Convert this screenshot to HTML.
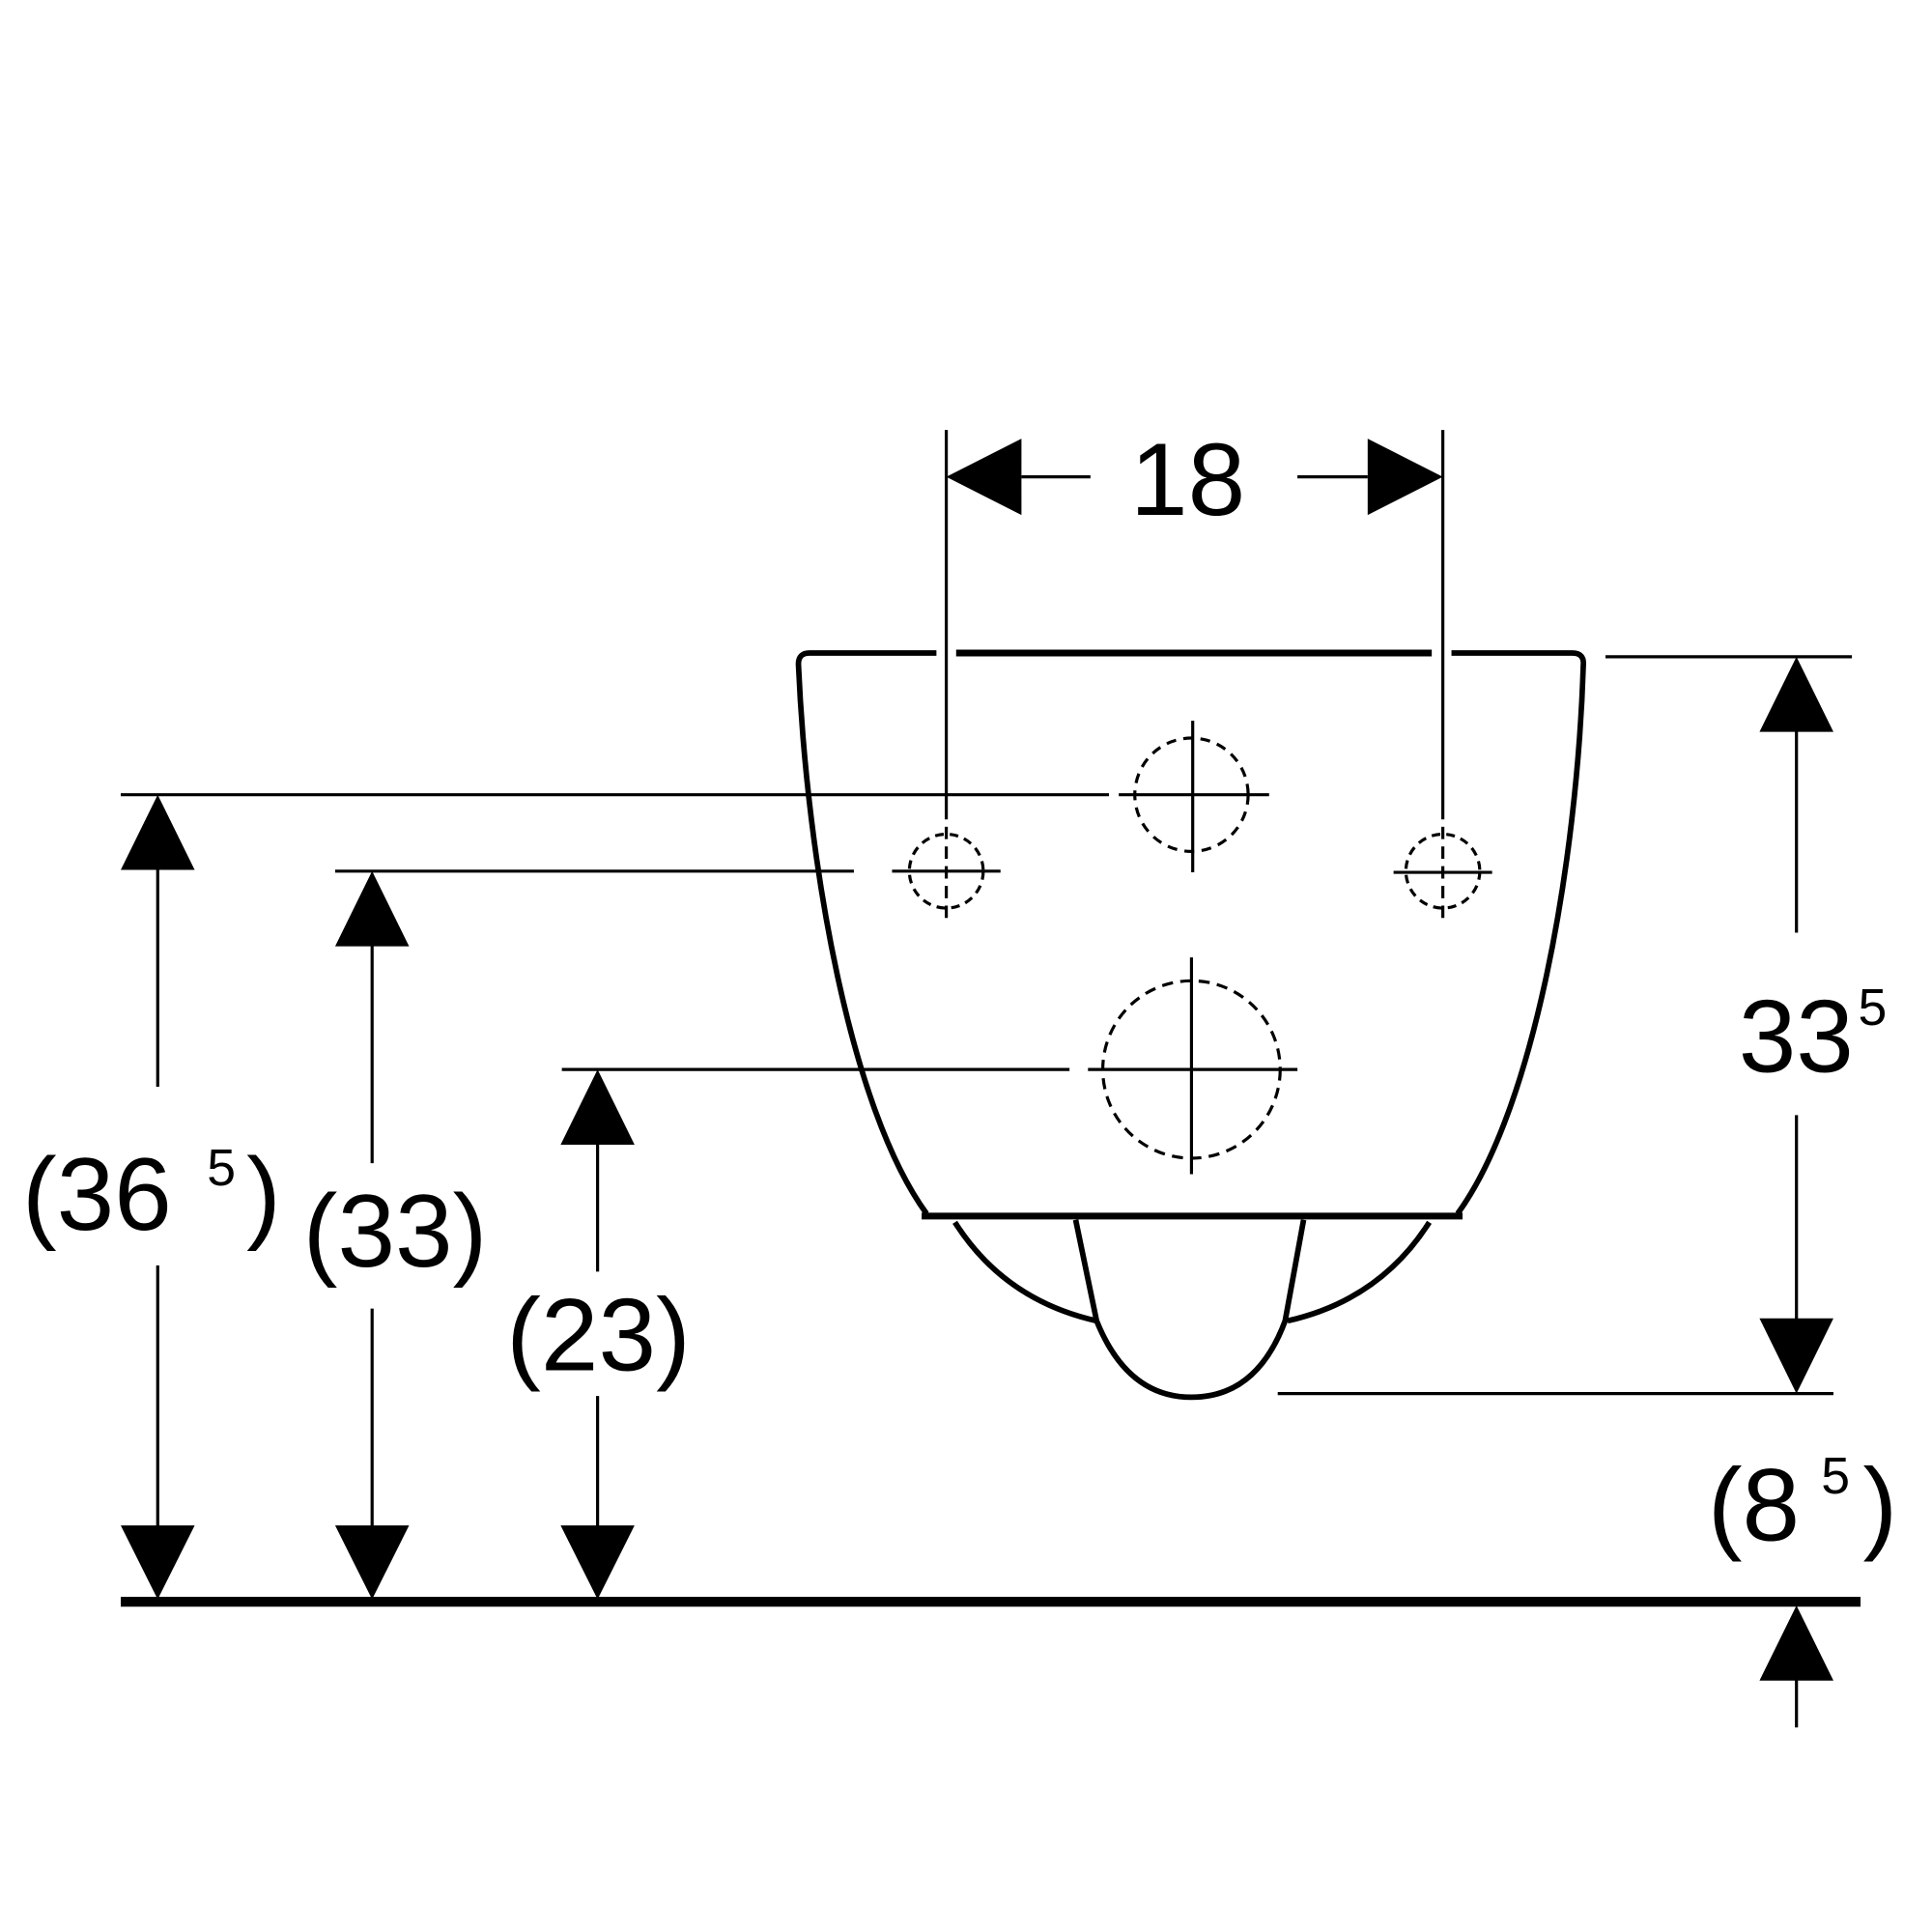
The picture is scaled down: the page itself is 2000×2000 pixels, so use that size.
<!DOCTYPE html>
<html><head><meta charset="utf-8"><style>html,body{margin:0;padding:0;background:#fff}svg{display:block}</style></head>
<body>
<svg width="2000" height="2000" viewBox="0 0 1568 1568" xmlns="http://www.w3.org/2000/svg" font-family="Liberation Sans, sans-serif">
<rect width="1568" height="1568" fill="#fff"/>
<g stroke="#000" fill="none">
<!-- bowl -->
<path d="M760,530 L657,530 Q648,530 648,539 C655,700 690,900 752,985" stroke-width="4.5"/>
<path d="M776,530 L1162,530" stroke-width="5.5"/>
<path d="M1178,530 L1276,530 Q1286,530 1285,540 C1280,700 1245,900 1183,985" stroke-width="4.5"/>
<line x1="748" y1="987" x2="1187" y2="987" stroke-width="5.5"/>
<path d="M775,992 Q815,1055 890,1072" stroke-width="4.5"/>
<path d="M1160,992 Q1120,1055 1045,1072" stroke-width="4.5"/>
<path d="M873,990 L890,1072 Q915,1134 967,1134 Q1020,1134 1043,1072 L1058,990" stroke-width="4.5"/>
<!-- vertical extension lines -->
<line x1="768" y1="349" x2="768" y2="655" stroke-width="2.5"/>
<line x1="768" y1="655" x2="768" y2="745" stroke-width="2.5" stroke-dasharray="10,6"/>
<line x1="1171" y1="349" x2="1171" y2="655" stroke-width="2.5"/>
<line x1="1171" y1="655" x2="1171" y2="745" stroke-width="2.5" stroke-dasharray="10,6"/>
<!-- holes -->
<circle cx="967" cy="645" r="46" stroke-width="2.5" stroke-dasharray="8,6"/>
<line x1="908" y1="645" x2="1030" y2="645" stroke-width="2.5"/>
<line x1="968" y1="585" x2="968" y2="708" stroke-width="2.5"/>
<circle cx="768" cy="707" r="30" stroke-width="2.5" stroke-dasharray="7,5"/>
<line x1="724" y1="707" x2="812" y2="707" stroke-width="2.5"/>
<circle cx="1171" cy="707" r="30" stroke-width="2.5" stroke-dasharray="7,5"/>
<line x1="1131" y1="708" x2="1211" y2="708" stroke-width="2.5"/>
<circle cx="967" cy="868" r="72" stroke-width="2.5" stroke-dasharray="9,6"/>
<line x1="883" y1="868" x2="1053" y2="868" stroke-width="2.5"/>
<line x1="967" y1="777" x2="967" y2="953" stroke-width="2.5"/>
<!-- horizontal extension lines -->
<line x1="98" y1="645" x2="900" y2="645" stroke-width="2.5"/>
<line x1="272" y1="707" x2="693" y2="707" stroke-width="2.5"/>
<line x1="456" y1="868" x2="868" y2="868" stroke-width="2.5"/>
<line x1="1303" y1="533" x2="1503" y2="533" stroke-width="2.5"/>
<line x1="1037" y1="1131" x2="1488" y2="1131" stroke-width="2.5"/>
<!-- ground -->
<line x1="98" y1="1300" x2="1510" y2="1300" stroke-width="8"/>
<!-- dim lines -->
<line x1="829" y1="387" x2="885" y2="387" stroke-width="2.5"/>
<line x1="1053" y1="387" x2="1110" y2="387" stroke-width="2.5"/>
<line x1="128" y1="700" x2="128" y2="882" stroke-width="2.5"/>
<line x1="128" y1="1027" x2="128" y2="1240" stroke-width="2.5"/>
<line x1="302" y1="760" x2="302" y2="944" stroke-width="2.5"/>
<line x1="302" y1="1062" x2="302" y2="1240" stroke-width="2.5"/>
<line x1="485" y1="925" x2="485" y2="1032" stroke-width="2.5"/>
<line x1="485" y1="1133" x2="485" y2="1240" stroke-width="2.5"/>
<line x1="1458" y1="590" x2="1458" y2="757" stroke-width="2.5"/>
<line x1="1458" y1="905" x2="1458" y2="1075" stroke-width="2.5"/>
<line x1="1458" y1="1360" x2="1458" y2="1402" stroke-width="2.5"/>
</g>
<g fill="#000">
<polygon points="768,387 829,356 829,418"/>
<polygon points="1171,387 1110,356 1110,418"/>
<polygon points="128,645 98,706 158,706"/>
<polygon points="128,1298 98,1238 158,1238"/>
<polygon points="302,707 272,768 332,768"/>
<polygon points="302,1298 272,1238 332,1238"/>
<polygon points="485,868 455,929 515,929"/>
<polygon points="485,1298 455,1238 515,1238"/>
<polygon points="1458,533 1428,594 1488,594"/>
<polygon points="1458,1131 1428,1070 1488,1070"/>
<polygon points="1458,1303 1428,1364 1488,1364"/>
</g>
<g fill="#000">
<text x="964" y="418" font-size="84" text-anchor="middle">18</text>
<text x="18" y="998" font-size="84">(36</text>
<text x="168" y="962" font-size="42">5</text>
<text x="200" y="998" font-size="84">)</text>
<text x="246" y="1028" font-size="84">(33)</text>
<text x="411" y="1112" font-size="84">(23)</text>
<text x="1411" y="870" font-size="84">33</text>
<text x="1508" y="832" font-size="42">5</text>
<text x="1386" y="1250" font-size="84">(8</text>
<text x="1478" y="1212" font-size="42">5</text>
<text x="1512" y="1250" font-size="84">)</text>
</g>
</svg>
</body></html>
